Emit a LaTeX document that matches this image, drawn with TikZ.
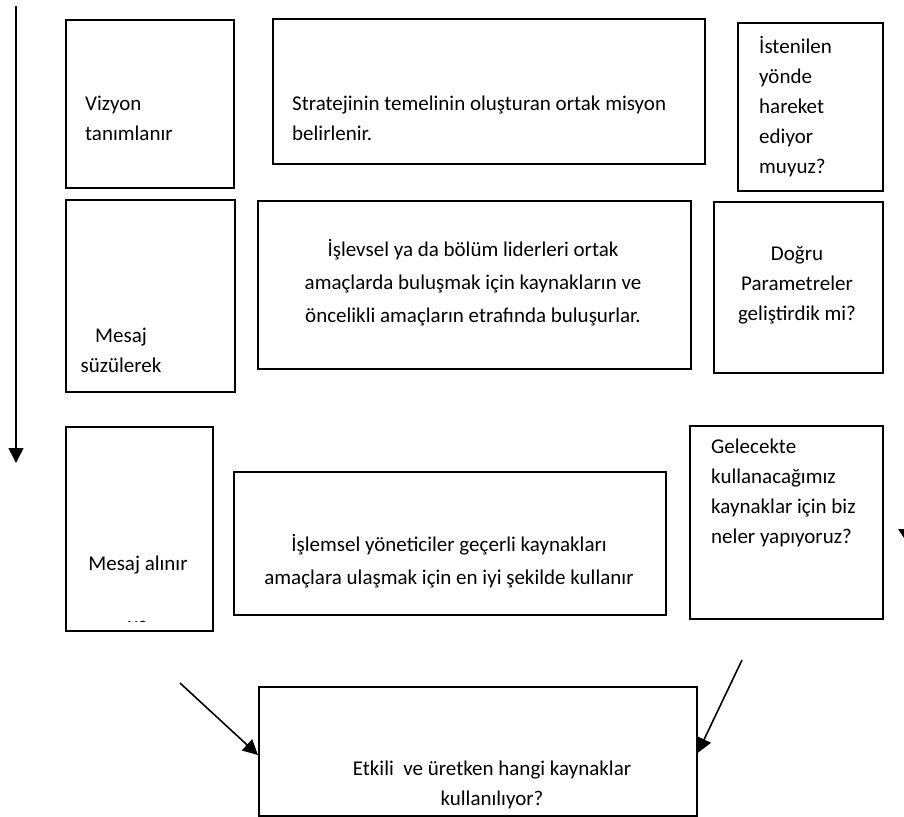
\documentclass[tikz,border=0pt]{standalone}
\usepackage{fontspec}
\setmainfont{Carlito}
\usetikzlibrary{arrows.meta}
\newcommand\mybox[5]{\node[box, anchor=north west, minimum width={#4-#2}, minimum height={#5-#3}] (#1) at (#2,#3) {};}
\begin{document}
\begin{tikzpicture}[x=1pt,y=-1pt,
  box/.style={draw, line width=1.6pt, inner sep=0pt},
  ltxt/.style={font=\fontsize{21}{30}\selectfont, inner sep=0pt, align=left, anchor=west},
  ctxt/.style={font=\fontsize{21}{30}\selectfont, inner sep=0pt, align=center},
  wtxt/.style={font=\fontsize{21}{33}\selectfont, inner sep=0pt, align=center},
  arr/.style={line width=1.6pt, -{Triangle[length=15pt,width=15pt]}}]
\useasboundingbox (0,0) rectangle (904,816);

% boxes
\mybox{b1}{65}{19}{233}{187}
\mybox{b2}{272}{18}{704}{163}
\mybox{b3}{737}{22}{882}{190}
\mybox{b4}{65}{199}{234}{391}
\mybox{b5}{257}{200}{690}{368}
\mybox{b6}{713}{201}{882}{372}
\mybox{b7}{65}{426}{212}{630}
\mybox{b8}{233}{471}{665}{614}
\mybox{b9}{689}{425}{882}{618}
\mybox{b10}{258}{686}{696}{815}

% texts
\node[ltxt] (t1) at (85,118) {Vizyon\\tanımlanır};
\node[ltxt] (t2) at (292,118) {Stratejinin temelinin oluşturan ortak misyon\\belirlenir.};
\node[ltxt] (t3) at (759,107) {İstenilen\\yönde\\hareket\\ediyor\\muyuz?};
\node[ctxt] (t4) at (121,350) {Mesaj\\süzülerek};
\node[wtxt] (t5) at (473,283) {İşlevsel ya da bölüm liderleri ortak\\amaçlarda buluşmak için kaynakların ve\\öncelikli amaçların etrafında buluşurlar.};
\node[ctxt] (t6) at (797,285) {Doğru\\Parametreler\\geliştirdik mi?};
\node[ctxt] (t7) at (138,565) {Mesaj alınır};
\begin{scope}
  \clip (66,600) rectangle (211,621);
  \node[ctxt] (t7b) at (138,626) {ve};
\end{scope}
\node[wtxt] (t8) at (449,561) {İşlemsel yöneticiler geçerli kaynakları\\amaçlara ulaşmak için en iyi şekilde kullanır};
\node[ltxt] (t9) at (711,493) {Gelecekte\\kullanacağımız\\kaynaklar için biz\\neler yapıyoruz?};
\node[ctxt] (t10) at (492,785) {Etkili\ \ ve üretken hangi kaynaklar\\kullanılıyor?};

% connectors
\coordinate (ls) at (16,6);
\coordinate (le) at (16,463);
\draw[arr] (ls) -- (le);
\coordinate (a1s) at (180,683);
\draw[arr] (a1s) -- (b10.west |- 0,755);
\coordinate (a2s) at (742,660);
\draw[arr] (a2s) -- (b10.east |- 0,753);
% partial arrowhead at the right edge
\coordinate (rh1) at (898,529);
\coordinate (rh2) at (914,529);
\coordinate (rh3) at (906,541);
\fill (rh1) -- (rh2) -- (rh3) -- cycle;
\end{tikzpicture}
\end{document}
